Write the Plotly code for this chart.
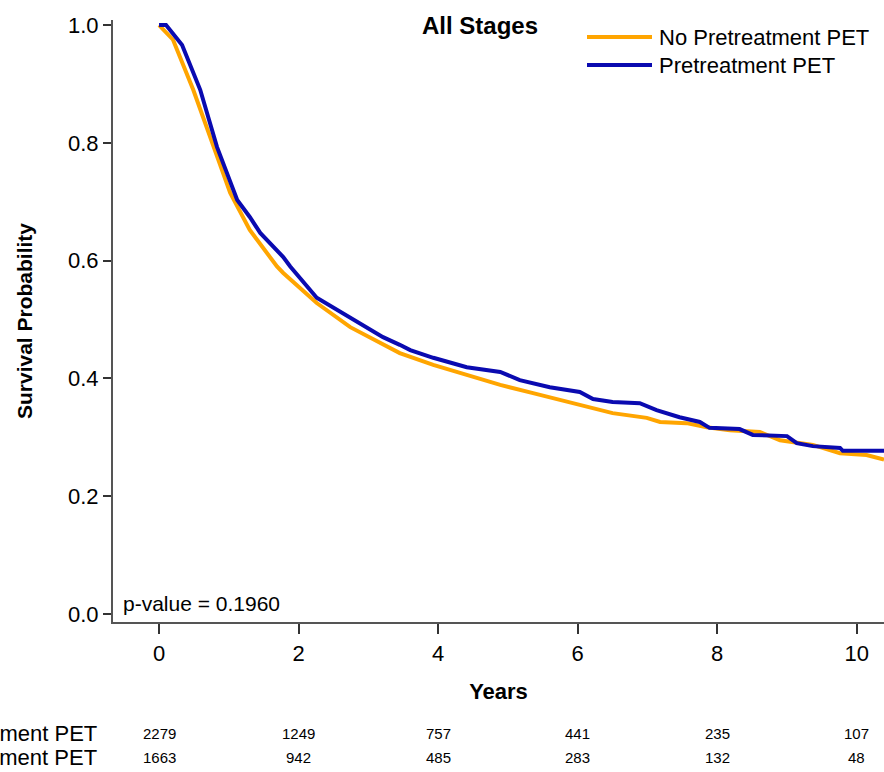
import plotly.graph_objects as go

# ---- data ----
series_names = ["No Pretreatment PET", "Pretreatment PET"]

no_pet_years = [0.0, 0.20, 0.49, 0.73, 1.02, 1.30, 1.69, 1.78, 2.26, 2.74, 3.31, 3.45,
                3.93, 4.41, 4.89, 5.36, 5.85, 6.03, 6.50, 6.99, 7.18, 7.56, 7.85,
                8.18, 8.61, 8.90, 9.37, 9.76, 10.14, 10.39]
no_pet_surv = [1.0, 0.975, 0.890, 0.810, 0.715, 0.652, 0.590, 0.579, 0.528, 0.487, 0.453, 0.443,
               0.423, 0.406, 0.389, 0.375, 0.360, 0.355, 0.341, 0.333, 0.326, 0.324, 0.317,
               0.312, 0.309, 0.295, 0.287, 0.273, 0.270, 0.262]

pet_years = [0.0, 0.10, 0.33, 0.59, 0.83, 1.12, 1.30, 1.45, 1.78, 1.88, 2.26, 2.74, 3.21,
             3.45, 3.60, 3.93, 4.41, 4.89, 5.17, 5.60, 6.03, 6.22, 6.50, 6.89, 7.13,
             7.46, 7.75, 7.89, 8.32, 8.51, 9.00, 9.14, 9.37, 9.76, 9.80, 10.39]
pet_surv = [1.0, 1.0, 0.966, 0.890, 0.793, 0.703, 0.674, 0.647, 0.606, 0.590, 0.537, 0.504, 0.470,
            0.457, 0.448, 0.435, 0.419, 0.411, 0.397, 0.385, 0.377, 0.365, 0.360, 0.358, 0.346,
            0.334, 0.326, 0.316, 0.314, 0.304, 0.302, 0.290, 0.285, 0.282, 0.277, 0.277]

x_ticks = [0, 2, 4, 6, 8, 10]
y_ticks = [0.0, 0.2, 0.4, 0.6, 0.8, 1.0]
y_tick_labels = ["0.0", "0.2", "0.4", "0.6", "0.8", "1.0"]
risk_no_pet = [2279, 1249, 757, 441, 235, 107]
risk_pet = [1663, 942, 485, 283, 132, 48]
p_value_text = "p-value = 0.1960"

colors = ["#FFA500", "#0A0AB0"]
FONT = "Arial, Liberation Sans, sans-serif"

fig = go.Figure()
fig.add_trace(go.Scatter(x=no_pet_years, y=no_pet_surv, mode="lines", name=series_names[0],
                         line=dict(color=colors[0], width=4), showlegend=False))
fig.add_trace(go.Scatter(x=pet_years, y=pet_surv, mode="lines", name=series_names[1],
                         line=dict(color=colors[1], width=4), showlegend=False))

# body margin removed in the page (post_script), so figure px == page px
W, H = 884, 772
L, R, T = 113, 0, 20
PLOT_BOTTOM = 622
ph = PLOT_BOTTOM - T
B = H - T - ph
pw = W - L - R
PLOT_LEFT = L


def px2paper_x(px):
    return (px - PLOT_LEFT) / pw


def px2paper_y(py):
    return (PLOT_BOTTOM - py) / ph


fig.update_layout(
    width=W, height=H,
    margin=dict(l=L, r=R, t=T, b=B),
    paper_bgcolor="white", plot_bgcolor="white",
    font=dict(family=FONT, color="black"),
    title=dict(text="<b>All Stages</b>", x=480 / W, xanchor="center",
               y=1 - 26 / H, yanchor="middle", font=dict(size=24, family=FONT)),
    xaxis=dict(range=[-0.66, 10.39], tickvals=x_ticks, ticks="outside", ticklen=10,
               tickwidth=2, tickcolor="#333", showline=True, linecolor="#555", linewidth=2,
               showgrid=False, zeroline=False, tickfont=dict(size=22),
               ticklabelstandoff=1,
               title=dict(text="<b>Years</b>", font=dict(size=22), standoff=18)),
    yaxis=dict(range=[-0.0136, 1.0085], tickvals=y_ticks, ticktext=y_tick_labels,
               ticks="outside", ticklen=8, tickwidth=2, tickcolor="#333",
               showline=True, linecolor="#555", linewidth=2, showgrid=False,
               zeroline=False, tickfont=dict(size=22),
               title=dict(text="<b>Survival Probability</b>", font=dict(size=21), standoff=30)),
)

# legend (drawn manually to match reference sample length)
leg_rows = [37, 65]
for i, name in enumerate(series_names):
    yp = px2paper_y(leg_rows[i])
    fig.add_shape(type="line", xref="paper", yref="paper",
                  x0=px2paper_x(587), x1=px2paper_x(652), y0=yp, y1=yp,
                  line=dict(color=colors[i], width=4))
    fig.add_annotation(x=px2paper_x(657), y=yp, xref="paper", yref="paper", text=name,
                       showarrow=False, xanchor="left", yanchor="middle",
                       font=dict(size=22, family=FONT))

# p-value
fig.add_annotation(x=px2paper_x(121), y=px2paper_y(603), xref="paper", yref="paper",
                   text=p_value_text, showarrow=False, xanchor="left", yanchor="middle",
                   font=dict(size=21, family=FONT))

# risk table
rows = [(series_names[0], risk_no_pet, 733), (series_names[1], risk_pet, 757)]
for name, counts, py in rows:
    yp = px2paper_y(py)
    fig.add_annotation(x=px2paper_x(99), y=yp, xref="paper", yref="paper", text=name,
                       showarrow=False, xanchor="right", yanchor="middle",
                       font=dict(size=22, family=FONT))
    for xv, c in zip(x_ticks, counts):
        fig.add_annotation(x=xv, y=yp, xref="x", yref="paper", text=str(c),
                           showarrow=False, xanchor="center", yanchor="middle",
                           font=dict(size=15, family=FONT))

fig.write_html("out.html", config={"displayModeBar": False},
               post_script="document.body.style.margin='0px';document.body.style.overflow='hidden';")
